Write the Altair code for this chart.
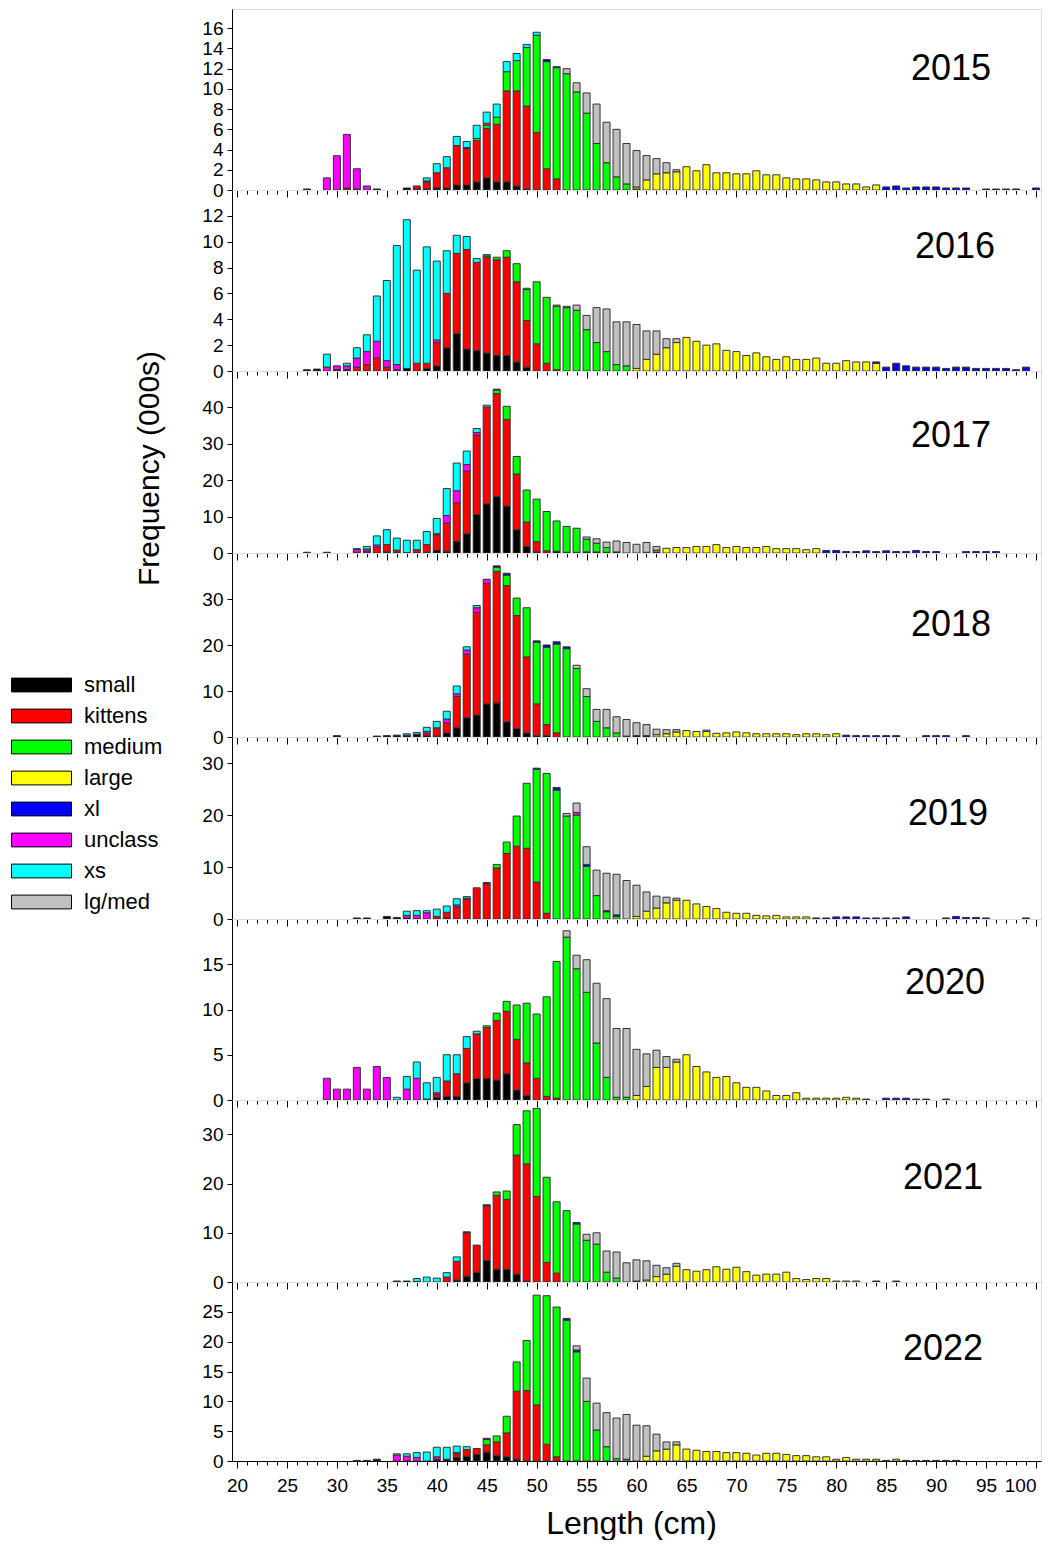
import altair as alt
import pandas as pd

CATS = ["small", "kittens", "medium", "large", "xl", "unclass", "xs", "lg/med"]
COLORS = ["#000000", "#ff0000", "#00ff00", "#ffff00", "#0000ff", "#ff00ff", "#00ffff", "#c0c0c0"]

D2015 = {
    "small": {27: .1, 32: .1, 34: .1, 37: .2, 38: .1, 39: .1, 40: .2, 41: .2, 42: .5, 43: .5, 44: .8, 45: 1.2, 46: .8, 47: .8, 48: .4, 49: .1},
    "kittens": {31: .2, 38: .3, 39: .7, 40: 1.5, 41: 2.0, 42: 3.9, 43: 3.6, 44: 4.1, 45: 4.9, 46: 5.7, 47: 9.0, 48: 9.4, 49: 8.2, 50: 5.7, 51: 2.1, 52: 1.1},
    "medium": {39: .1, 43: .1, 44: .2, 45: .3, 46: .7, 47: 1.9, 48: 3.0, 49: 5.8, 50: 9.6, 51: 10.6, 52: 11.0, 53: 11.5, 54: 9.7, 55: 7.6, 56: 4.6, 57: 2.7, 58: 1.3, 59: .6, 60: .1},
    "large": {60: .2, 61: 1.0, 62: 1.6, 63: 1.7, 64: 1.8, 65: 2.3, 66: 1.9, 67: 2.5, 68: 1.7, 69: 1.7, 70: 1.6, 71: 1.6, 72: 1.9, 73: 1.5, 74: 1.5, 75: 1.2, 76: 1.1, 77: 1.1, 78: 1.0, 79: .8, 80: .8, 81: .6, 82: .6, 83: .3, 84: .5},
    "xl": {51: .2, 85: .3, 86: .4, 87: .2, 88: .3, 89: .3, 90: .3, 91: .2, 92: .2, 93: .2, 95: .1, 96: .1, 97: .1, 98: .1, 100: .2},
    "unclass": {29: 1.2, 30: 3.4, 31: 5.3, 32: 2.0, 33: .4, 45: .2, 52: .1},
    "xs": {39: .3, 40: .9, 41: 1.1, 42: .9, 43: .6, 44: 1.3, 45: 1.1, 46: 1.3, 47: 1.0, 48: .7, 49: .3, 50: .3},
    "lg/med": {53: .5, 54: .9, 55: 2.0, 56: 3.9, 57: 4.0, 58: 4.7, 59: 4.0, 60: 3.6, 61: 2.4, 62: 1.5, 63: 1.0, 64: .2},
}

D2016 = {
    "small": {27: .1, 28: .15, 30: .1, 31: .1, 37: .2, 39: .2, 40: .4, 41: 1.8, 42: 2.9, 43: 1.7, 44: 1.6, 45: 1.4, 46: 1.2, 47: 1.2, 48: .7, 49: .3},
    "kittens": {32: .3, 33: .5, 34: 1.0, 35: .3, 36: .1, 38: .6, 39: .4, 40: 1.8, 41: 4.2, 42: 6.2, 43: 7.7, 44: 6.8, 45: 7.4, 46: 7.4, 47: 7.6, 48: 6.2, 49: 3.6, 50: 2.1, 51: .6, 52: .1},
    "medium": {45: .1, 46: .2, 47: .5, 48: 1.4, 49: 2.4, 50: 4.8, 51: 5.1, 52: 4.9, 53: 4.9, 54: 4.7, 55: 3.2, 56: 2.2, 57: 1.5, 58: .5, 59: .4},
    "large": {60: .2, 61: .9, 62: 1.3, 63: 1.8, 64: 2.2, 65: 2.6, 66: 2.3, 67: 2.0, 68: 2.1, 69: 1.6, 70: 1.5, 71: 1.2, 72: 1.4, 73: 1.1, 74: .9, 75: 1.1, 76: .9, 77: .9, 78: 1.0, 79: .6, 80: .6, 81: .8, 82: .7, 83: .7, 84: .6},
    "xl": {84: .1, 85: .3, 86: .6, 87: .4, 88: .3, 89: .3, 90: .3, 91: .2, 92: .3, 93: .3, 94: .2, 95: .2, 96: .2, 97: .2, 98: .1, 99: .3},
    "unclass": {29: .3, 30: .3, 31: .3, 32: .7, 33: 1.0, 34: 1.3, 35: .5, 36: .4, 40: .2},
    "xs": {29: 1.0, 31: .2, 32: .8, 33: 1.3, 34: 3.5, 35: 6.2, 36: 9.2, 37: 11.5, 38: 7.2, 39: 9.0, 40: 6.1, 41: 3.3, 42: 1.4, 43: 1.0, 44: .3, 45: .1},
    "lg/med": {49: .1, 52: .1, 53: .1, 54: .4, 55: 1.1, 56: 2.7, 57: 3.3, 58: 3.3, 59: 3.4, 60: 3.4, 61: 2.2, 62: 1.8, 63: .7, 64: .3},
}

D2017 = {
    "small": {27: .2, 29: .2, 32: .2, 33: .2, 35: .3, 36: .2, 37: .1, 38: .1, 39: .2, 40: .8, 41: .5, 42: 3.2, 43: 5.3, 44: 10.6, 45: 13.5, 46: 15.5, 47: 12.9, 48: 6.4, 49: 1.8, 50: .3, 52: .5, 53: .2, 54: .2, 55: .3, 56: .3, 57: .2, 58: .3, 61: .2, 62: .3},
    "kittens": {33: .3, 34: 1.6, 35: 2.0, 36: .6, 38: .8, 39: 2.1, 40: 4.2, 41: 7.7, 42: 10.6, 43: 17.2, 44: 21.8, 45: 26.6, 46: 28.3, 47: 23.8, 48: 15.3, 49: 6.7, 50: 2.8, 51: .6},
    "medium": {46: 1.0, 47: 3.6, 48: 4.8, 49: 8.8, 50: 11.7, 51: 10.8, 52: 8.3, 53: 7.1, 54: 6.6, 55: 3.5, 56: 2.4, 57: 1.3},
    "large": {62: .5, 63: 1.3, 64: 1.5, 65: 1.5, 66: 1.8, 67: 1.8, 68: 2.3, 69: 1.5, 70: 1.8, 71: 1.5, 72: 1.5, 73: 1.8, 74: 1.2, 75: 1.2, 76: 1.2, 77: .9, 78: 1.2},
    "xl": {46: .2, 79: .7, 80: .7, 81: .4, 82: .4, 83: .6, 84: .4, 85: .6, 86: .4, 87: .4, 88: .7, 89: .4, 90: .4, 93: .4, 94: .4, 95: .4, 96: .4},
    "unclass": {32: .8, 33: .6, 34: .6, 40: .3, 41: 2.1, 42: 3.3, 43: 1.8, 44: .7},
    "xs": {32: .2, 33: .7, 34: 2.5, 35: 4.1, 36: 3.3, 37: 3.4, 38: 2.6, 39: 3.6, 40: 4.2, 41: 7.4, 42: 7.6, 43: 3.7, 44: 1.1, 45: .5},
    "lg/med": {55: .6, 56: 1.2, 57: 1.5, 58: 3.0, 59: 2.9, 60: 2.4, 61: 2.7, 62: 1.0},
}

D2018 = {
    "small": {30: .3, 34: .2, 35: .3, 36: .4, 37: .4, 38: .6, 39: .3, 40: .2, 41: .9, 42: 2.0, 43: 4.2, 44: 4.8, 45: 7.2, 46: 7.4, 47: 3.3, 48: 1.9, 49: .9, 50: .3, 51: .3, 59: .1, 60: .3, 61: .3},
    "kittens": {39: .5, 40: 1.8, 41: 2.2, 42: 6.8, 43: 13.8, 44: 22.3, 45: 26.2, 46: 28.6, 47: 29.6, 48: 24.5, 49: 16.5, 50: 6.9, 51: 2.4, 52: .9},
    "medium": {46: .9, 47: 2.3, 48: 3.8, 49: 10.7, 50: 13.4, 51: 16.8, 52: 19.3, 53: 19.2, 54: 14.9, 55: 8.8, 56: 3.4, 57: 2.0, 58: .9, 59: .1},
    "large": {62: .5, 63: .7, 64: 1.1, 65: 1.4, 66: 1.2, 67: 1.2, 68: .8, 69: .9, 70: 1.1, 71: .9, 72: .7, 73: .7, 74: .7, 75: .7, 76: .5, 77: .7, 78: .7, 79: .5, 80: .7},
    "xl": {46: .3, 47: .4, 50: .3, 51: .5, 52: .5, 53: .4, 81: .4, 82: .3, 83: .3, 84: .3, 85: .3, 86: .3, 89: .3, 90: .3, 91: .3, 93: .3},
    "unclass": {39: .4, 41: .8, 42: .6, 43: .9, 44: 1.0, 45: .9},
    "xs": {37: .3, 38: .4, 39: .9, 40: 1.4, 41: 1.7, 42: 1.7, 43: .7, 44: .5},
    "lg/med": {54: .7, 55: 1.7, 56: 2.6, 57: 4.0, 58: 3.5, 59: 3.6, 60: 2.8, 61: 2.4, 62: 1.2, 63: .9, 64: .5, 67: .3},
}

D2019 = {
    "small": {32: .2, 33: .2, 35: .5, 36: .3, 37: .2, 38: .1, 41: .2},
    "kittens": {40: .5, 41: 1.1, 42: 2.3, 43: 3.8, 44: 6.0, 45: 6.8, 46: 9.8, 47: 12.6, 48: 14.0, 49: 13.6, 50: 7.1, 51: 1.1},
    "medium": {46: .7, 47: 2.2, 48: 5.8, 49: 12.5, 50: 21.7, 51: 26.9, 52: 24.8, 53: 19.8, 54: 20.0, 55: 10.1, 56: 4.5, 57: 1.4, 58: .5},
    "large": {60: .5, 61: 1.5, 62: 2.1, 63: 3.1, 64: 3.6, 65: 3.6, 66: 2.9, 67: 2.4, 68: 2.0, 69: 1.3, 70: 1.1, 71: 1.1, 72: .7, 73: .6, 74: .7, 75: .4, 76: .4, 77: .4},
    "xl": {43: .2, 45: .2, 50: .2, 52: .5, 55: .4, 57: .2, 58: .3, 78: .2, 79: .2, 80: .4, 81: .4, 82: .4, 83: .2, 84: .2, 85: .2, 86: .2, 87: .4, 91: .2, 92: .5, 93: .3, 94: .3, 95: .2, 99: .2},
    "unclass": {37: .5, 38: .6, 39: 1.2, 42: .4, 54: .5},
    "xs": {37: .8, 38: .9, 39: .4, 40: 1.4, 41: 1.2, 42: 1.2, 43: .3},
    "lg/med": {53: .5, 54: 1.8, 55: 3.4, 56: 4.9, 57: 7.2, 58: 7.8, 59: 7.4, 60: 6.0, 61: 3.7, 62: 2.3, 63: 1.1, 64: .4},
}

D2020 = {
    "small": {39: .1, 40: .3, 41: .4, 42: .4, 43: 1.9, 44: 2.4, 45: 2.4, 46: 2.2, 47: 2.9, 48: 1.1, 49: .5},
    "kittens": {40: .3, 41: 1.7, 42: 2.5, 43: 3.8, 44: 4.9, 45: 5.6, 46: 6.6, 47: 6.9, 48: 5.6, 49: 3.6, 50: 2.4, 51: .4, 52: .2},
    "medium": {45: .2, 46: .8, 47: 1.1, 48: 3.8, 49: 6.6, 50: 7.1, 51: 11.0, 52: 15.1, 53: 18.0, 54: 14.5, 55: 11.9, 56: 6.3, 57: 2.5, 58: .3, 59: .3},
    "large": {60: .5, 61: 1.5, 62: 3.6, 63: 3.6, 64: 4.2, 65: 5.0, 66: 3.7, 67: 3.1, 68: 2.5, 69: 2.6, 70: 1.9, 71: 1.4, 72: 1.4, 73: 1.0, 74: .5, 75: .5, 76: .8, 77: .2, 78: .2, 79: .2, 80: .2, 81: .3, 82: .2},
    "xl": {83: .1, 85: .2, 86: .2, 87: .2, 88: .1, 89: .1, 91: .1},
    "unclass": {29: 2.4, 30: 1.2, 31: 1.2, 32: 3.6, 33: 1.2, 34: 3.7, 35: 2.5, 37: 1.2, 38: 2.4, 40: .2},
    "xs": {36: .3, 37: 1.4, 38: 1.8, 39: 1.8, 40: 1.7, 41: 2.9, 42: 2.1, 43: 1.3, 44: .3},
    "lg/med": {53: .7, 54: 1.5, 55: 3.6, 56: 6.6, 57: 8.7, 58: 7.6, 59: 7.6, 60: 5.1, 61: 3.6, 62: 1.9, 63: 1.2, 64: .3},
}

D2021 = {
    "small": {36: .2, 37: .2, 38: .1, 42: .4, 43: 1.2, 44: 2.0, 45: 4.4, 46: 2.6, 47: 2.6, 48: 1.6, 49: .2, 60: .2},
    "kittens": {41: 1.0, 42: 3.8, 43: 8.8, 44: 5.5, 45: 11.1, 46: 15.0, 47: 14.2, 48: 24.2, 49: 23.8, 50: 17.4, 51: 4.0, 52: 1.8},
    "medium": {46: .7, 47: 1.7, 48: 6.2, 49: 10.8, 50: 17.9, 51: 17.3, 52: 14.5, 53: 14.5, 54: 11.8, 55: 8.5, 56: 7.7, 57: 2.0, 58: .8},
    "large": {61: .4, 62: 1.1, 63: 1.6, 64: 3.2, 65: 2.5, 66: 2.2, 67: 2.5, 68: 3.1, 69: 2.6, 70: 3.0, 71: 2.1, 72: 1.4, 73: 1.6, 74: 1.6, 75: 2.0, 76: .7, 77: .5, 78: .7, 79: .7, 80: .2, 81: .2, 82: .2},
    "xl": {43: .2, 45: .2, 54: .3, 84: .2, 86: .2},
    "unclass": {},
    "xs": {38: .6, 39: 1.0, 40: .8, 41: .9, 42: .9},
    "lg/med": {55: 1.2, 56: 2.3, 57: 4.3, 58: 5.3, 59: 3.9, 60: 4.3, 61: 3.9, 62: 2.3, 63: 1.3, 64: .6},
}

D2022 = {
    "small": {32: .1, 33: .1, 34: .3, 40: .3, 41: .3, 42: .6, 43: .8, 44: 1.1, 45: 1.5, 46: .9, 47: .7, 48: .3},
    "kittens": {42: .6, 43: 1.1, 44: 1.0, 45: 1.2, 46: 2.3, 47: 4.0, 48: 11.4, 49: 11.8, 50: 9.4, 51: 2.8, 52: .7},
    "medium": {45: .9, 46: 1.0, 47: 2.8, 48: 4.9, 49: 8.4, 50: 18.4, 51: 24.9, 52: 25.1, 53: 23.6, 54: 18.3, 55: 10.0, 56: 5.2, 57: 2.4, 58: .4, 59: .3},
    "large": {61: .8, 62: 1.7, 63: 2.0, 64: 2.7, 65: 2.0, 66: 1.8, 67: 1.6, 68: 1.6, 69: 1.4, 70: 1.4, 71: 1.3, 72: 1.0, 73: 1.3, 74: 1.3, 75: 1.1, 76: .9, 77: .9, 78: .7, 79: .7, 80: .3, 81: .6, 82: .3, 83: .3, 84: .3, 86: .3},
    "xl": {45: .2, 53: .3, 54: .3, 85: .1, 87: .1, 88: .1, 89: .1, 90: .1, 91: .1, 92: .1},
    "unclass": {36: 1.0, 37: .8, 38: .6, 40: .4, 42: .2},
    "xs": {36: .2, 37: .4, 38: .8, 39: 1.5, 40: 1.6, 41: 2.0, 42: 1.1, 43: .5},
    "lg/med": {54: .7, 55: 3.9, 56: 4.5, 57: 5.7, 58: 6.8, 59: 7.5, 60: 6.0, 61: 5.1, 62: 2.8, 63: 1.2, 64: .5},
}

YEARS = [2015, 2016, 2017, 2018, 2019, 2020, 2021, 2022]
DATA = [D2015, D2016, D2017, D2018, D2019, D2020, D2021, D2022]
YMAX = [17.9, 14, 50, 40, 35, 20, 37, 30]
YTICKS = [list(range(0, 17, 2)), list(range(0, 13, 2)), [0, 10, 20, 30, 40], [0, 10, 20, 30],
          [0, 10, 20, 30], [0, 5, 10, 15], [0, 10, 20, 30], [0, 5, 10, 15, 20, 25]]

# layout / style
HEIGHTS = [181, 181, 182, 184, 182, 181, 182, 179]
YEAR_LABEL_POS = [(759, 60), (763, 57), (759, 65), (759, 72), (756, 77), (753, 64), (751, 78), (751, 67)]
FONT = "Liberation Sans"
WIDTH = 809


def panel(i):
    year, data = YEARS[i], DATA[i]
    rows = []
    for ci, cat in enumerate(CATS):
        for L, v in data[cat].items():
            rows.append({"L": L, "cat": cat, "ci": ci, "v": v})
    df = pd.DataFrame(rows)
    last = i == len(YEARS) - 1
    xaxis = alt.Axis(
        values=list(range(20, 101)),
        labels=last,
        labelExpr="datum.value % 5 === 0 ? datum.label : ''",
        labelAlign={"condition": {"test": "datum.value >= 100", "value": "right"}, "value": "center"},
        labelFontSize=19, labelFont=FONT, labelColor="black", labelPadding=8,
        labelOverlap=False, labelFlush=False,
        tickSize={"condition": {"test": "datum.value % 5 === 0", "value": 7}, "value": 4},
        tickColor="black", domainColor="black", grid=False,
        title="Length (cm)" if last else None,
        titleFontSize=32, titleFont=FONT, titleFontWeight="normal", titleColor="black",
        titleX=399, titleY=72, titleBaseline="alphabetic", titleAlign="center",
    )
    yaxis_kwargs = dict(
        values=YTICKS[i], labelFontSize=19, labelFont=FONT, labelColor="black",
        labelPadding=4, tickSize=5, tickColor="black", domainColor="black", grid=False,
    )
    if i == 2:
        yaxis = alt.Axis(title="Frequency (000s)", titleFontSize=30, titleFont=FONT,
                         titleFontWeight="normal", titleColor="black", titleX=-74, titleY=97,
                         titleAngle=270, titleBaseline="alphabetic", titleAlign="center",
                         **yaxis_kwargs)
    else:
        yaxis = alt.Axis(title=None, **yaxis_kwargs)

    if i == 3:
        legend = alt.Legend(
            title=None, orient="none", legendX=-221, legendY=121,
            symbolType="M-1,-0.23H1V0.23H-1Z", symbolSize=3600,
            symbolStrokeColor="black", symbolStrokeWidth=1,
            labelFontSize=22, labelFont=FONT, labelColor="black", labelOffset=12,
            clipHeight=22, rowPadding=9, padding=0,
        )
    else:
        legend = None

    bars = alt.Chart(df).mark_bar(size=7, stroke="#333333", strokeWidth=1).encode(
        x=alt.X("L:Q", scale=alt.Scale(domain=[20, 100], nice=False, zero=False), axis=xaxis),
        y=alt.Y("v:Q", stack="zero", scale=alt.Scale(domain=[0, YMAX[i]], nice=False), axis=yaxis),
        color=alt.Color("cat:N", scale=alt.Scale(domain=CATS, range=COLORS), legend=legend),
        order=alt.Order("ci:Q", sort="ascending"),
    )
    lx, ly = YEAR_LABEL_POS[i]
    label = alt.Chart(pd.DataFrame({"t": [str(year)]})).mark_text(
        font=FONT, fontSize=36, align="right", baseline="middle", color="black"
    ).encode(text="t:N", x=alt.value(lx), y=alt.value(ly))
    return alt.layer(bars, label).properties(width=WIDTH, height=HEIGHTS[i])


chart = alt.vconcat(*[panel(i) for i in range(len(YEARS))], spacing=0, bounds="flush").resolve_scale(
    y="independent", x="shared", color="shared"
).resolve_legend(color="independent").properties(
    padding={"left": 2, "top": 0, "right": 0, "bottom": 0}
).configure_view(stroke="black", strokeWidth=1).configure(background="white")

chart.save("out.html", embed_options={"renderer": "svg", "actions": False})
